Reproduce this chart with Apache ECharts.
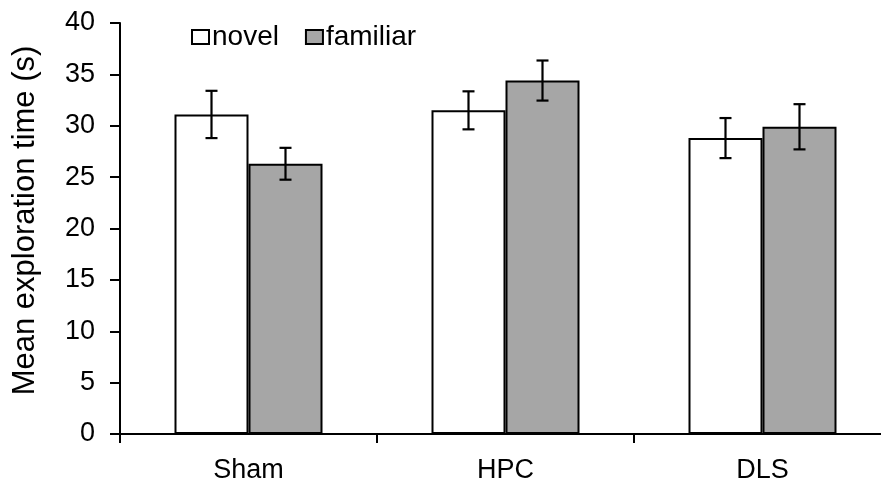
<!DOCTYPE html>
<html>
<head>
<meta charset="utf-8">
<script src="https://cdn.jsdelivr.net/npm/echarts@6/dist/echarts.min.js"></script>
<style>
  html, body { margin: 0; padding: 0; background: #fff; }
  #chart { width: 881px; height: 487px; }
</style>
</head>
<body>
<div id="chart"></div>
<script>
// Groups and mean exploration times (s) with error bar half-widths
const categories = ['Sham', 'HPC', 'DLS'];
const novelMeans = [31.1, 31.5, 28.8];
const novelErrors = [2.3, 1.85, 1.95];
const familiarMeans = [26.3, 34.4, 29.9];
const familiarErrors = [1.55, 1.95, 2.2];
const yTicks = [0, 5, 10, 15, 20, 25, 30, 35, 40];

const FONT = '"Liberation Sans", Arial, sans-serif';
const BAR_W = 74;

const chart = echarts.init(document.getElementById('chart'), null, { renderer: 'canvas' });

function errorData(means, errs) {
  return means.map((m, i) => [i, m, errs[i]]);
}

// Whiskers centred on each bar: dir -1 = left bar of the pair, +1 = right bar
function errorSeries(name, means, errs, dir) {
  return {
    type: 'custom',
    name: name + ' error',
    z: 10,
    silent: true,
    data: errorData(means, errs),
    renderItem: function (params, api) {
      const cat = api.value(0);
      const m = api.value(1);
      const e = api.value(2);
      const center = api.coord([cat, m]);
      const x = center[0] + dir * BAR_W / 2;
      const top = api.coord([cat, m + e])[1];
      const bot = api.coord([cat, m - e])[1];
      const cap = 6;
      const style = { stroke: '#000', lineWidth: 2.2 };
      return {
        type: 'group',
        children: [
          { type: 'line', shape: { x1: x, y1: top, x2: x, y2: bot }, style: style },
          { type: 'line', shape: { x1: x - cap, y1: top, x2: x + cap, y2: top }, style: style },
          { type: 'line', shape: { x1: x - cap, y1: bot, x2: x + cap, y2: bot }, style: style }
        ]
      };
    }
  };
}

chart.setOption({
  animation: false,
  backgroundColor: '#fff',
  textStyle: { fontFamily: FONT },
  grid: { left: 120, top: 23, bottom: 53, right: -10, containLabel: false, outerBoundsMode: 'none' },
  legend: {
    data: ['novel', 'familiar'],
    left: 186,
    top: 18,
    itemWidth: 17,
    itemHeight: 14,
    itemGap: 26,
    icon: 'rect',
    textStyle: { fontSize: 28, color: '#000', fontFamily: FONT, padding: [0, 0, 0, -2] }
  },
  xAxis: {
    type: 'category',
    data: categories,
    axisLine: { lineStyle: { color: '#000', width: 2 } },
    axisTick: { show: true, alignWithLabel: false, length: 9, lineStyle: { color: '#000', width: 2 } },
    axisLabel: { color: '#000', fontSize: 27, fontFamily: FONT, margin: 23 },
    splitLine: { show: false }
  },
  yAxis: {
    type: 'value',
    min: 0,
    max: 40,
    interval: 5,
    name: 'Mean exploration time (s)',
    nameLocation: 'middle',
    nameGap: 79,
    nameTextStyle: { color: '#000', fontSize: 31, fontFamily: FONT, padding: [0, 0, 0, 16] },
    axisLine: { show: true, lineStyle: { color: '#000', width: 2 } },
    axisTick: { show: true, inside: false, length: 10, lineStyle: { color: '#000', width: 2 } },
    axisLabel: {
      color: '#000', fontSize: 27, fontFamily: FONT, margin: 25,
      formatter: v => (yTicks.indexOf(v) >= 0 ? String(v) : '')
    },
    splitLine: { show: false }
  },
  series: [
    {
      name: 'novel',
      type: 'bar',
      data: novelMeans,
      barWidth: BAR_W,
      barGap: '0%',
      itemStyle: { color: '#fff', borderColor: '#000', borderWidth: 2 }
    },
    {
      name: 'familiar',
      type: 'bar',
      data: familiarMeans,
      barWidth: BAR_W,
      barGap: '0%',
      itemStyle: { color: '#a6a6a6', borderColor: '#000', borderWidth: 2 }
    },
    errorSeries('novel', novelMeans, novelErrors, -1),
    errorSeries('familiar', familiarMeans, familiarErrors, 1)
  ]
});
</script>
</body>
</html>
